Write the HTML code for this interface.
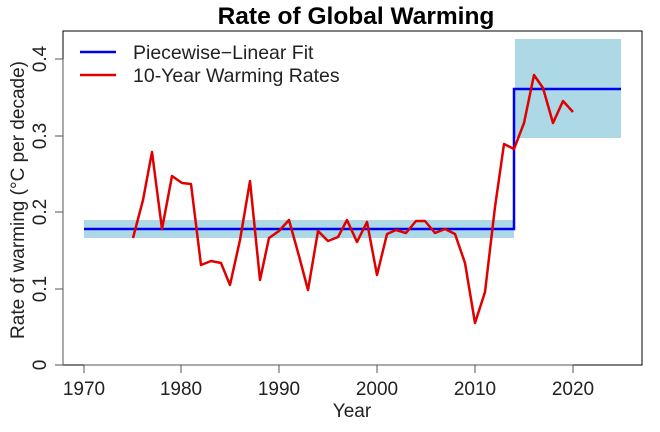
<!DOCTYPE html>
<html><head><meta charset="utf-8"><style>body{margin:0;background:#fff}svg{display:block}text{font-family:"Liberation Sans",Arial,sans-serif;fill:#222}</style></head>
<body>
<svg width="660" height="432" viewBox="0 0 660 432">
<text x="356" y="24" text-anchor="middle" font-size="24.5" font-weight="bold" style="fill:#000">Rate of Global Warming</text>
<rect x="84" y="220" width="430" height="18" fill="#add8e6"/>
<rect x="515" y="39" width="106" height="99" fill="#add8e6"/>
<polyline fill="none" stroke="#0000ee" stroke-width="2.5" points="84,229 514,229 514,89 621,89"/>
<polyline fill="none" stroke="#e00000" stroke-width="2.5" stroke-linejoin="round" points="133,238 143,200 152,152 162,229 172,176 182,183 191,184 201,265 211,261 221,263 230,285 240,240 250,181 260,280 269,238 279,231 289,220 299,256 308,290 318,231 328,241 338,237 347,220 357,242 367,222 377,275 387,234 396,230 406,233 416,221 425,221 435,233 445,229 455,234 465,263 475,323 485,292 495,207 504,144 514,149 524,123 534,75 543,88 553,123 563,101 573,112"/>
<rect x="63" y="31" width="579" height="334" fill="none" stroke="#000" stroke-width="1"/>
<g stroke="#555" stroke-width="1">
<line x1="84" y1="365" x2="573" y2="365"/>
<line x1="84" y1="365" x2="84" y2="373"/><line x1="181" y1="365" x2="181" y2="373"/><line x1="279" y1="365" x2="279" y2="373"/><line x1="377" y1="365" x2="377" y2="373"/><line x1="475" y1="365" x2="475" y2="373"/><line x1="573" y1="365" x2="573" y2="373"/>
<line x1="63" y1="59" x2="63" y2="365"/>
<line x1="55" y1="365" x2="63" y2="365"/><line x1="55" y1="289" x2="63" y2="289"/><line x1="55" y1="212" x2="63" y2="212"/><line x1="55" y1="136" x2="63" y2="136"/><line x1="55" y1="59" x2="63" y2="59"/>
</g>
<g font-size="19" text-anchor="middle">
<text x="84" y="395">1970</text><text x="181" y="395">1980</text><text x="279" y="395">1990</text><text x="377" y="395">2000</text><text x="475" y="395">2010</text><text x="573" y="395">2020</text>
<text x="352" y="417">Year</text>
<text transform="translate(46,365) rotate(-90)">0</text>
<text transform="translate(46,289) rotate(-90)">0.1</text>
<text transform="translate(46,212) rotate(-90)">0.2</text>
<text transform="translate(46,136) rotate(-90)">0.3</text>
<text transform="translate(46,59) rotate(-90)">0.4</text>
<text transform="translate(24,200) rotate(-90)">Rate of warming (°C per decade)</text>
</g>
<line x1="80" y1="52" x2="116" y2="52" stroke="#0000ee" stroke-width="2.5"/>
<line x1="80" y1="75" x2="116" y2="75" stroke="#e00000" stroke-width="2.5"/>
<text x="133" y="59" font-size="19.5">Piecewise−Linear Fit</text>
<text x="133" y="82" font-size="19.5">10-Year Warming Rates</text>
</svg>
</body></html>
